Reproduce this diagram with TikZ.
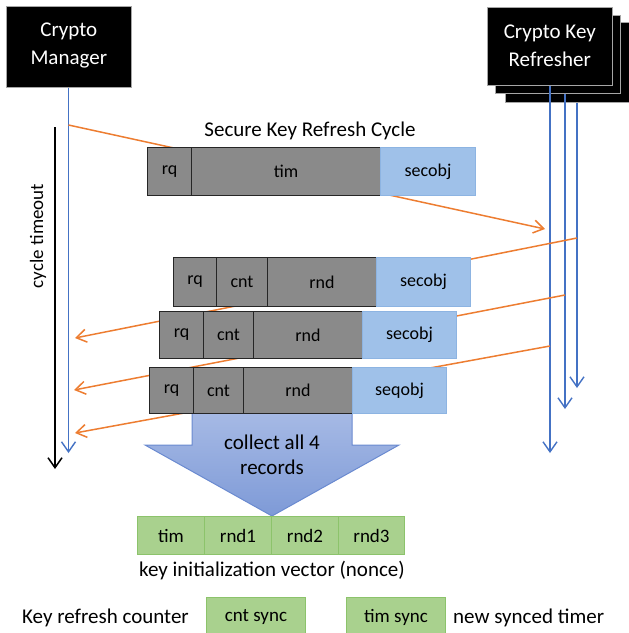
\documentclass[tikz,border=0pt]{standalone}
\usepackage{fontspec}
\setmainfont{Carlito}
\usetikzlibrary{arrows.meta}
\definecolor{cborange}{HTML}{ED7D31}
\definecolor{cbblue}{HTML}{4472C4}
\definecolor{recgray}{HTML}{8A8A8A}
\definecolor{recedge}{HTML}{262626}
\definecolor{secfill}{HTML}{9FC1E9}
\definecolor{secedge}{HTML}{8DB4E2}
\definecolor{grfill}{HTML}{A9D18E}
\definecolor{gredge}{HTML}{8CC36B}
\definecolor{arrtop}{HTML}{A9BCE6}
\definecolor{arrbot}{HTML}{7E9AD7}
\definecolor{arredge}{HTML}{6A8AD0}
\tikzset{
  x=1pt, y=-1pt,
  bigfont/.style={font=\fontsize{21}{25}\selectfont},
  cellbase/.style={inner sep=0pt, anchor=north west, font=\fontsize{18}{20}\selectfont},
  graycell/.style={cellbase, draw=recedge, fill=recgray, line width=1.1pt},
  seccell/.style={cellbase, draw=secedge, fill=secfill, line width=1.1pt},
  greencell/.style={cellbase, draw=gredge, fill=grfill, line width=1pt, font=\fontsize{19}{22}\selectfont},
  blackbox/.style={draw=gray!70, fill=black, line width=0.6pt, inner sep=0pt, anchor=north west},
  boxtext/.style={font=\fontsize{21}{28}\selectfont, text=white, align=center},
  bluearrow/.style={draw=cbblue, line width=1.4pt, -{Straight Barb[length=10pt,width=14pt]}},
  orangearrow/.style={draw=cborange, line width=1.5pt, -{Straight Barb[length=10pt,width=13pt]}},
  blackarrow/.style={draw=black, line width=1.5pt, -{Straight Barb[length=10pt,width=14pt]}},
  plaintext/.style={bigfont, inner sep=0pt},
}
\newcommand{\cell}[7]{\node[#1, minimum width=#4pt, minimum height=#5pt] (#2) at (#3) {#7};}
\begin{document}
\begin{tikzpicture}
\useasboundingbox (0,0) rectangle (629,633);

% actor boxes
\node[blackbox, minimum width=125pt, minimum height=81pt] (cm) at (6,6) {};
\node[boxtext] (cmtext) at ([yshift=1pt]cm.center) {Crypto\\Manager};

\node[blackbox, minimum width=125pt, minimum height=80pt] (ref3) at (505,22) {};
\node[blackbox, minimum width=125pt, minimum height=78pt] (ref2) at (495,15) {};
\node[blackbox, minimum width=125pt, minimum height=78pt] (ref1) at (487,7) {};
\node[boxtext] (reftext) at ([yshift=1pt]ref1.center) {Crypto Key\\Refresher};

% coordinates for free ends
\coordinate (cmEnd) at (68.5,453);
\coordinate (ctTop) at (55,127);
\coordinate (ctEnd) at (55,469);
\coordinate (r1e) at (550,453);
\coordinate (r2e) at (565,409);
\coordinate (r3e) at (577,388);
\coordinate (o1s) at (68.5,125);
\coordinate (o1e) at (545,229);
\coordinate (oAs) at (577,238);
\coordinate (oAe) at (75,338);
\coordinate (oBs) at (565,295);
\coordinate (oBe) at (74,390);
\coordinate (oCs) at (550,346);
\coordinate (oCe) at (75,433);

% timelines
\draw[bluearrow] (cm.south -| cmEnd) -- (cmEnd);
\draw[blackarrow] (ctTop) -- (ctEnd);
\node[plaintext, font=\fontsize{19}{22}\selectfont, rotate=90] (cyc) at (38,236) {cycle timeout};
\draw[bluearrow] (ref1.south -| r1e) -- (r1e);
\draw[bluearrow] (ref2.south -| r2e) -- (r2e);
\draw[bluearrow] (ref3.south -| r3e) -- (r3e);

% messages
\draw[orangearrow] (o1s) -- (o1e);
\draw[orangearrow] (oAs) -- (oAe);
\draw[orangearrow] (oBs) -- (oBe);
\draw[orangearrow] (oCs) -- (oCe);

% big arrow
\draw[draw=arredge, line width=1pt, top color=arrtop, bottom color=arrbot]
  (192,405) -- (192,445) -- (145,445) -- (272,516) -- (399,445) -- (352,445) -- (352,405) -- cycle;
\node[plaintext, align=center] (collect) at (272,455) {collect all 4\\records};

% record 1
\node[plaintext] (title) at (310,131) {Secure Key Refresh Cycle};
\cell{graycell}{a1}{147,147}{44}{48}{}{rq}
\cell{graycell}{a2}{191,147}{189}{48}{}{tim}
\cell{seccell}{a3}{380,147}{95}{48}{}{secobj}

% record 2
\cell{graycell}{b1}{173,257}{43}{49}{}{rq}
\cell{graycell}{b2}{216,257}{51}{49}{}{cnt}
\cell{graycell}{b3}{267,257}{109}{49}{}{rnd}
\cell{seccell}{b4}{376,257}{94}{49}{}{secobj}

% record 3
\cell{graycell}{c1}{159,311}{44}{47}{}{rq}
\cell{graycell}{c2}{203,311}{50}{47}{}{cnt}
\cell{graycell}{c3}{253,311}{109}{47}{}{rnd}
\cell{seccell}{c4}{362,311}{94}{47}{}{secobj}

% record 4
\cell{graycell}{d1}{149,367}{44}{46}{}{rq}
\cell{graycell}{d2}{193,367}{50}{46}{}{cnt}
\cell{graycell}{d3}{243,367}{109}{46}{}{rnd}
\cell{seccell}{d4}{352,367}{94}{46}{}{seqobj}

% nonce
\cell{greencell}{g1}{137,516}{67}{38}{}{tim}
\cell{greencell}{g2}{204,516}{67}{38}{}{rnd1}
\cell{greencell}{g3}{271,516}{67}{38}{}{rnd2}
\cell{greencell}{g4}{338,516}{66}{38}{}{rnd3}
\node[plaintext] (nonce) at (272,571) {key initialization vector (nonce)};

% sync
\node[plaintext, anchor=west] (krc) at (22,618) {Key refresh counter};
\cell{greencell}{s1}{206,597}{99}{40}{}{cnt sync}
\cell{greencell}{s2}{346,597}{99}{40}{}{tim sync}
\node[plaintext, anchor=west] (nst) at (453,618) {new synced timer};
\end{tikzpicture}
\end{document}
